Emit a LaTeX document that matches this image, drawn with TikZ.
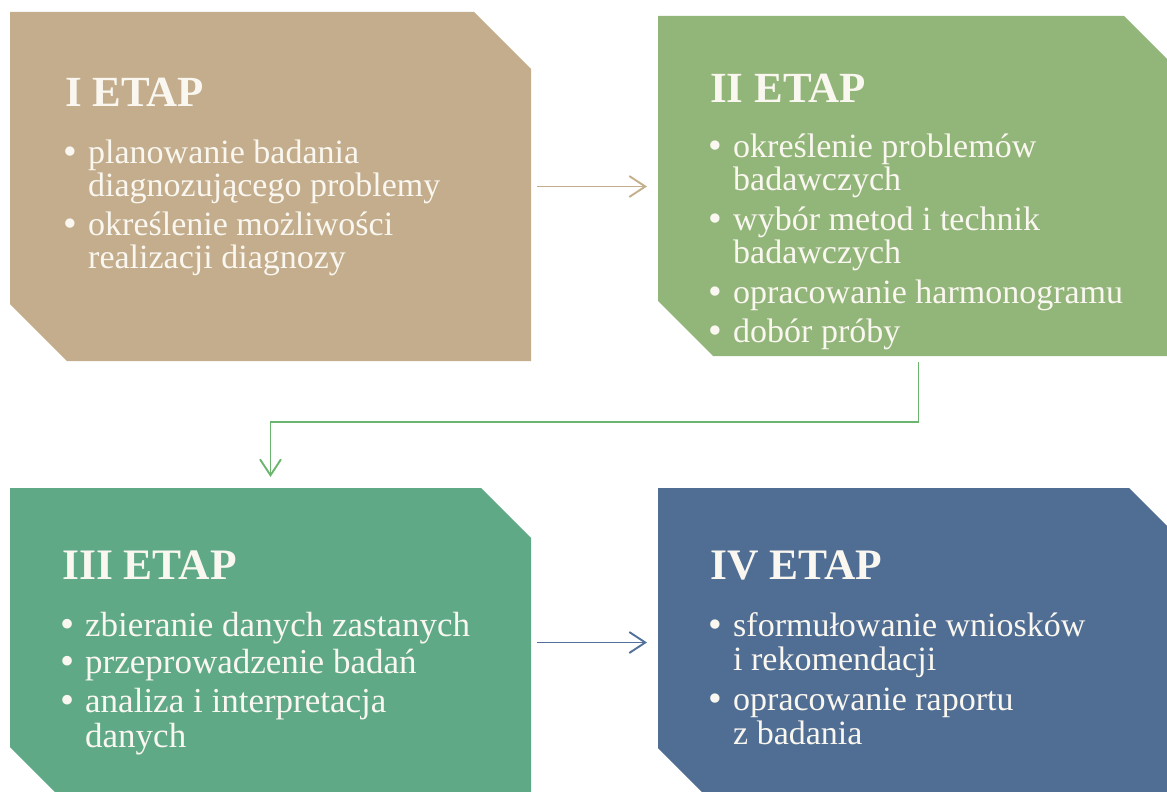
\documentclass[tikz,border=0pt]{standalone}
\usepackage{fontspec}
\setmainfont{Liberation Serif}
\usetikzlibrary{arrows.meta}
\definecolor{boxA}{HTML}{C3AD8C}
\definecolor{boxB}{HTML}{92B579}
\definecolor{boxC}{HTML}{5FA987}
\definecolor{boxD}{HTML}{506E93}
\definecolor{arrA}{HTML}{C4AF8C}
\definecolor{arrB}{HTML}{6CB56F}
\definecolor{arrC}{HTML}{52709A}
\definecolor{txt}{HTML}{FAF7F0}
\newcommand{\cutbox}[3]{\fill[#2] (#1.north west) -- ([xshift=-#3]#1.north east) -- ([yshift=-#3]#1.north east) -- (#1.south east) -- ([xshift=#3]#1.south west) -- ([yshift=#3]#1.south west) -- cycle;}
\newcommand{\itm}[1]{\hbox{\llap{\raisebox{-1pt}{\scalebox{1.15}{•}}\hspace{11pt}}#1}}
\newcommand{\cnt}[1]{\hbox{#1}}
\newcommand{\lines}[2]{\vtop{\baselineskip=#1\lineskiplimit=-100pt\lineskip=0pt #2}}
\begin{document}
\begin{tikzpicture}[x=1pt,y=-1pt,
  frame/.style={rectangle,inner sep=0pt,outer sep=0pt,draw=none},
  head/.style={anchor=base west,inner sep=0pt,text=txt,font=\bfseries\fontsize{43}{43}\selectfont},
  headlow/.style={head,font=\bfseries\fontsize{43.5}{43}\selectfont},
  body/.style={anchor=base west,inner sep=0pt,text=txt,font=\fontsize{34}{33}\selectfont},
  bodylow/.style={body,font=\fontsize{35}{35}\selectfont},
  conn/.style={line width=1.9pt,-{Straight Barb[length=16pt,width=21pt]}}]
\useasboundingbox (0,0) rectangle (1167,792);
\clip (0,0) rectangle (1167,792);
% box frames
\node[frame,minimum width=521pt,minimum height=349pt] (b1) at (270.5,186.5) {};
\node[frame,minimum width=521pt,minimum height=340pt] (b2) at (918.5,186) {};
\node[frame,minimum width=521pt,minimum height=309pt] (b3) at (270.5,642.5) {};
\node[frame,minimum width=521pt,minimum height=310pt] (b4) at (918.5,643) {};
\cutbox{b1}{boxA}{57pt}
\cutbox{b2}{boxB}{55pt}
\cutbox{b3}{boxC}{50pt}
\cutbox{b4}{boxD}{50pt}
% connectors
\draw[conn,arrA] ([xshift=6pt]b1.east) -- ([xshift=-11pt]b1.east -| b2.west);
\draw[conn,arrB] ([yshift=-6pt]b2.south) |- ([yshift=66pt]b3.north) -- ([yshift=11pt]b3.north);
\draw[conn,arrC] ([xshift=6pt]b3.east) -- ([xshift=-11pt]b3.east -| b4.west);
% headings
\node[head] (h1) at (65,106) {I ETAP};
\node[head] (h2) at (710,102) {II ETAP};
\node[headlow] (h3) at (62,579) {III ETAP};
\node[headlow] (h4) at (710,579) {IV ETAP};
% bodies
\node[body] (t1) at (88,163) {\lines{33pt}{%
  \itm{planowanie badania}\cnt{diagnozującego problemy}\vskip6pt
  \itm{określenie możliwości}\cnt{realizacji diagnozy}}};
\node[body] (t2) at (733,157) {\lines{33pt}{%
  \itm{określenie problemów}\cnt{badawczych}\vskip7pt
  \itm{wybór metod i technik}\cnt{badawczych}\vskip7pt
  \itm{opracowanie harmonogramu}\vskip6pt
  \itm{dobór próby}}};
\node[bodylow] (t3) at (85,636) {\lines{35pt}{%
  \itm{zbieranie danych zastanych}\vskip2pt
  \itm{przeprowadzenie badań}\vskip4pt
  \itm{analiza i interpretacja}\cnt{danych}}};
\node[body] (t4) at (733,636) {\lines{34pt}{%
  \itm{sformułowanie wniosków}\cnt{i rekomendacji}\vskip6pt
  \itm{opracowanie raportu}\cnt{z badania}}};
\end{tikzpicture}
\end{document}
